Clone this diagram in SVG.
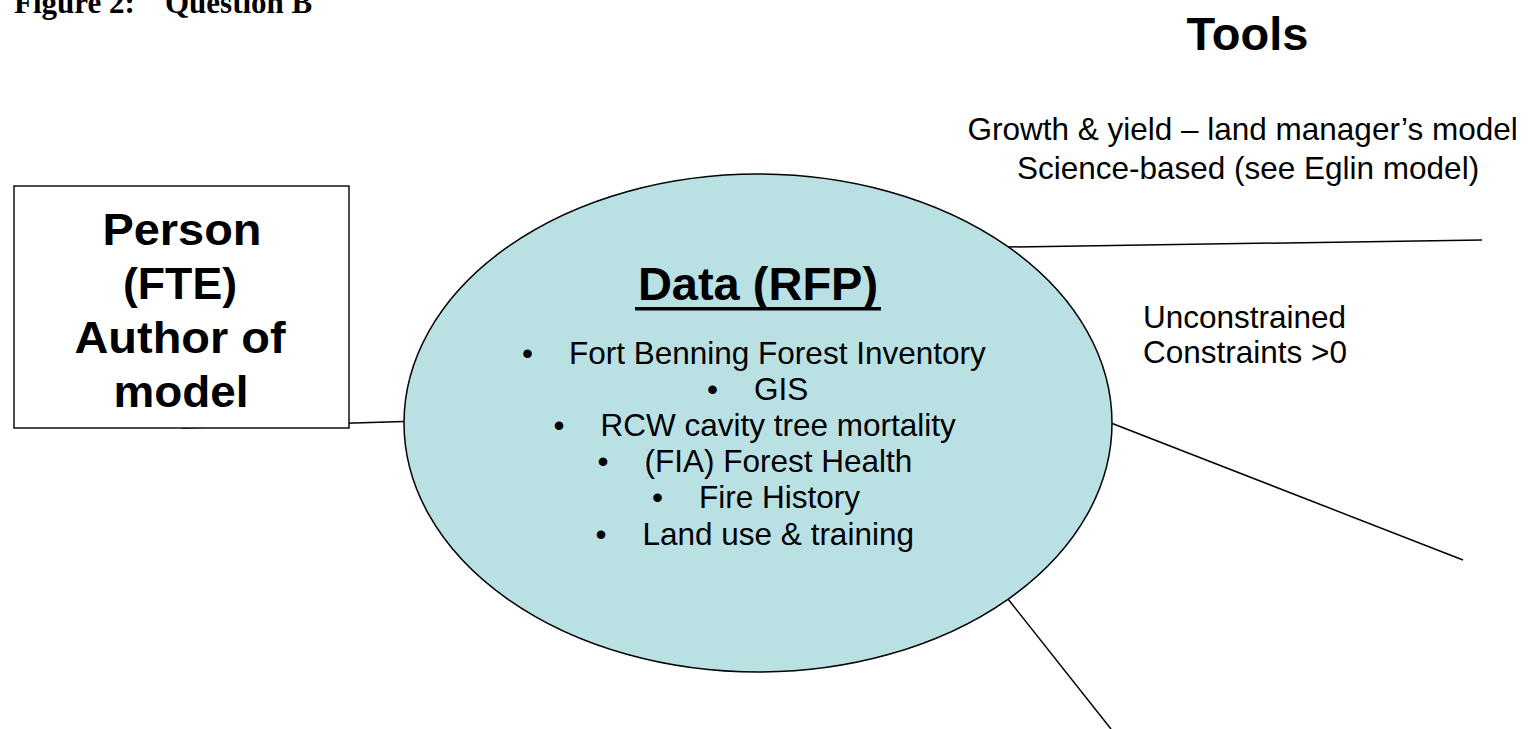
<svg xmlns="http://www.w3.org/2000/svg" width="1532" height="729" viewBox="0 0 1532 729">
  <style>
    .title { font-family: "Liberation Serif", "Times New Roman", serif; font-weight: bold; font-size: 31px; fill: #000; }
    .head { font-family: "Liberation Sans", Arial, sans-serif; font-weight: bold; font-size: 47px; fill: #000; }
    .boxtxt { font-family: "Liberation Sans", Arial, sans-serif; font-weight: bold; font-size: 44px; fill: #000; }
    .body { font-family: "Liberation Sans", Arial, sans-serif; font-size: 31.5px; fill: #000; }
    .link { stroke: #000; stroke-width: 1.5; fill: none; }
  </style>

  <!-- figure caption, clipped by the top edge -->
  <g id="caption">
    <text class="title" y="13"><tspan x="14">Figure 2:</tspan><tspan x="165">Question B</tspan></text>
  </g>

  <!-- connectors radiating from the data ellipse -->
  <g id="connectors">
    <line class="link" x1="182" y1="428" x2="404" y2="421.5"/>
    <line class="link" x1="1008" y1="247" x2="1482" y2="240"/>
    <line class="link" x1="1111" y1="423" x2="1463" y2="560"/>
    <line class="link" x1="1008" y1="599" x2="1111" y2="729"/>
  </g>

  <!-- person box -->
  <g id="node-person">
    <rect x="14" y="186" width="335" height="242" fill="#fff" stroke="#000" stroke-width="1.4"/>
    <text class="boxtxt" text-anchor="middle">
      <tspan x="182" y="245" textLength="159" lengthAdjust="spacingAndGlyphs">Person</tspan>
    </text>
    <text class="boxtxt" text-anchor="middle">
      <tspan x="180" y="299" textLength="114" lengthAdjust="spacingAndGlyphs">(FTE)</tspan>
    </text>
    <text class="boxtxt" text-anchor="middle">
      <tspan x="180" y="353" textLength="211" lengthAdjust="spacingAndGlyphs">Author of</tspan>
    </text>
    <text class="boxtxt" text-anchor="middle">
      <tspan x="181" y="407" textLength="135" lengthAdjust="spacingAndGlyphs">model</tspan>
    </text>
  </g>

  <!-- central data ellipse -->
  <g id="node-data">
    <ellipse cx="758" cy="423" rx="354" ry="249" fill="#B9E0E3" stroke="#000" stroke-width="1.5"/>
    <text class="head" x="758" y="300" text-anchor="middle">Data (RFP)</text>
    <rect x="635" y="307" width="246" height="3.5" fill="#000"/>
    <text class="body" y="363.5"><tspan x="522">•</tspan><tspan x="569">Fort Benning Forest Inventory</tspan></text>
    <text class="body" y="399.7"><tspan x="707">•</tspan><tspan x="754">GIS</tspan></text>
    <text class="body" y="435.9"><tspan x="553.5">•</tspan><tspan x="600.5">RCW cavity tree mortality</tspan></text>
    <text class="body" y="472.1"><tspan x="597.5">•</tspan><tspan x="644.5">(FIA) Forest Health</tspan></text>
    <text class="body" y="508.3"><tspan x="652">•</tspan><tspan x="699">Fire History</tspan></text>
    <text class="body" y="544.5"><tspan x="595.5">•</tspan><tspan x="642.5">Land use &amp; training</tspan></text>
  </g>

  <!-- tools heading and labels -->
  <g id="node-tools">
    <text class="head" x="1247.5" y="50" text-anchor="middle">Tools</text>
  </g>
  <g id="label-growth">
    <text class="body" text-anchor="middle">
      <tspan x="1247" y="140">Growth &amp; yield – land manager’s model</tspan>
      <tspan x="1248" y="179">Science-based (see Eglin model)</tspan>
    </text>
  </g>
  <g id="label-constraints">
    <text class="body">
      <tspan x="1143" y="328">Unconstrained</tspan>
      <tspan x="1143" y="363">Constraints &gt;0</tspan>
    </text>
  </g>
</svg>
